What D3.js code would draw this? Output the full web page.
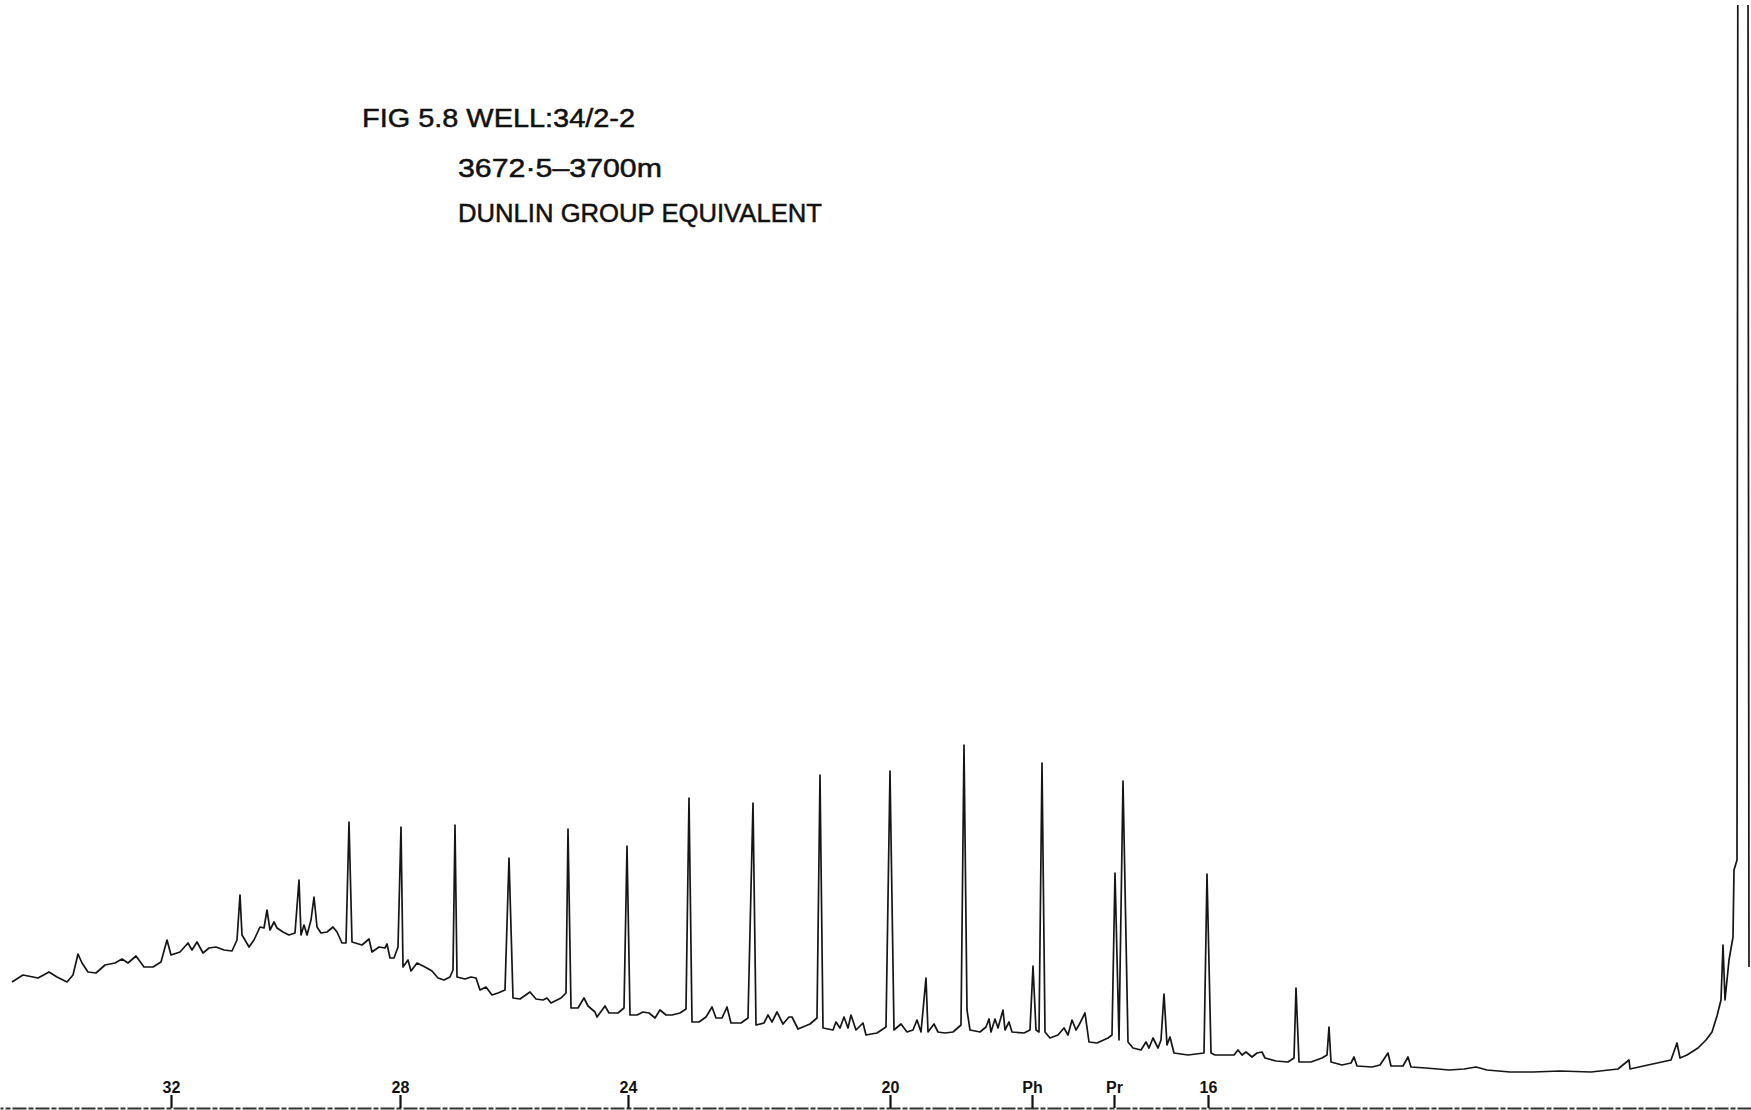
<!DOCTYPE html>
<html><head><meta charset="utf-8">
<script src="https://cdn.jsdelivr.net/npm/d3@7"></script>
<style>html,body{margin:0;padding:0;background:#fff;overflow:hidden}</style>
</head><body>
<script>
// ---- data (retention time in minutes, detector signal in arbitrary units) ----
const titleLines = ["FIG 5.8 WELL:34/2-2", "3672·5–3700m", "DUNLIN GROUP EQUIVALENT"];
const tickLabels = ["32", "28", "24", "20", "Ph", "Pr", "16"];
const tickTimes  = [79.0, 67.55, 56.15, 43.05, 35.95, 31.85, 27.15];

// chromatogram trace: [retention time, signal]
const trace = [
 [86.95,12.6],[86.40,13.3],[85.65,13.0],[85.10,13.6],[84.70,13.1],[84.20,12.6],[83.90,13.3],[83.65,15.4],
 [83.45,14.5],[83.15,13.6],[82.75,13.5],[82.30,14.3],[81.80,14.5],[81.45,14.9],[81.15,14.5],[80.75,15.2],
 [80.35,14.1],[79.90,14.1],[79.50,14.6],[79.20,16.8],[79.00,15.3],[78.55,15.6],[78.15,16.5],[77.95,15.8],
 [77.70,16.6],[77.40,15.5],[77.10,16.0],[76.75,16.1],[76.35,15.8],[75.95,15.7],[75.70,16.8],[75.55,21.3],
 [75.45,17.3],[75.30,16.8],[75.10,16.1],[74.85,16.8],[74.55,18.1],[74.35,18.0],[74.20,19.8],[74.05,17.8],
 [73.85,18.6],[73.70,18.0],[73.40,17.6],[73.10,17.3],[72.80,17.5],[72.60,22.8],[72.50,17.3],[72.35,18.3],
 [72.20,17.3],[72.00,18.8],[71.85,21.1],[71.70,18.1],[71.50,17.5],[71.20,17.6],[70.90,18.1],[70.70,17.6],
 [70.45,16.5],[70.25,16.5],[70.10,28.6],[69.95,16.6],[69.45,16.3],[69.10,16.9],[68.95,15.6],[68.60,16.1],
 [68.30,16.0],[68.20,16.4],[68.05,15.0],[67.85,15.0],[67.65,16.1],[67.50,28.1],[67.40,14.1],[67.15,14.8],
 [67.00,13.7],[66.70,14.5],[66.30,14.1],[65.95,13.7],[65.65,13.0],[65.35,12.8],[65.05,13.1],[64.90,13.8],
 [64.80,28.3],[64.70,13.1],[64.30,12.9],[64.00,13.1],[63.75,13.0],[63.55,11.8],[63.25,12.1],[62.95,11.3],
 [62.65,11.5],[62.30,11.8],[62.10,25.0],[61.90,11.0],[61.55,10.9],[61.05,11.6],[60.75,10.9],[60.40,10.8],
 [60.20,11.0],[60.00,10.5],[59.50,11.0],[59.25,11.5],[59.15,27.9],[59.00,10.0],[58.65,10.0],[58.35,11.0],
 [58.15,10.2],[57.80,9.6],[57.70,9.1],[57.30,10.2],[57.10,9.5],[56.65,9.5],[56.35,10.0],[56.20,26.2],
 [56.05,9.3],[55.70,9.3],[55.40,9.6],[55.10,9.5],[54.80,9.0],[54.55,9.8],[54.25,9.3],[53.95,9.3],
 [53.55,9.5],[53.25,9.9],[53.10,31.0],[52.95,8.6],[52.60,8.6],[52.25,9.1],[51.95,10.1],[51.75,9.0],
 [51.45,9.0],[51.20,10.1],[51.00,8.5],[50.50,8.5],[50.15,9.0],[49.90,30.5],[49.75,8.3],[49.35,8.5],
 [49.15,9.3],[48.95,8.6],[48.70,9.6],[48.40,8.4],[48.10,9.1],[47.95,9.1],[47.65,7.9],[47.05,8.4],
 [46.70,9.0],[46.55,33.3],[46.40,8.0],[45.90,7.8],[45.75,8.6],[45.55,8.0],[45.35,9.1],[45.15,8.0],
 [45.00,9.3],[44.75,7.8],[44.40,8.5],[44.25,7.3],[43.70,7.5],[43.25,8.1],[43.05,33.7],[42.85,7.8],
 [42.50,8.4],[42.20,7.6],[41.90,7.8],[41.70,8.8],[41.50,7.6],[41.25,13.0],[41.15,7.6],[40.85,8.4],
 [40.65,7.6],[40.30,7.5],[39.90,7.6],[39.50,8.3],[39.35,36.3],[39.20,9.8],[39.05,7.8],[38.55,7.6],
 [38.25,8.1],[38.10,8.9],[38.00,7.6],[37.80,8.9],[37.65,8.0],[37.40,9.8],[37.30,7.8],[37.10,8.6],
 [36.95,7.6],[36.35,7.5],[36.05,7.8],[35.90,14.2],[35.75,7.8],[35.60,7.6],[35.45,34.5],[35.30,7.6],
 [35.05,7.0],[34.65,7.3],[34.35,8.0],[34.15,7.3],[33.95,8.8],[33.75,7.8],[33.60,8.3],[33.30,9.5],
 [33.10,6.6],[32.70,6.5],[32.15,7.0],[31.95,7.3],[31.80,23.5],[31.60,6.8],[31.40,32.7],[31.15,6.6],
 [30.90,6.0],[30.50,5.8],[30.25,6.6],[30.10,6.0],[29.90,7.0],[29.65,6.0],[29.50,6.8],[29.35,11.4],
 [29.20,6.3],[29.05,7.1],[28.85,5.5],[28.15,5.3],[27.35,5.5],[27.20,23.4],[27.00,5.5],[26.80,5.3],
 [25.85,5.3],[25.65,5.8],[25.45,5.3],[25.25,5.6],[24.95,5.1],[24.70,5.5],[24.45,5.6],[24.30,5.0],
 [23.75,4.7],[23.15,4.6],[22.85,5.0],[22.75,12.0],[22.60,4.6],[22.00,4.6],[21.45,5.0],[21.20,5.3],
 [21.10,8.1],[21.00,4.6],[20.45,4.3],[20.00,4.5],[19.85,5.1],[19.70,4.2],[18.95,4.1],[18.55,4.3],
 [18.15,5.5],[18.00,4.2],[17.40,4.2],[17.15,5.1],[17.00,4.1],[16.25,4.0],[15.10,3.8],[14.35,3.9],
 [13.75,4.1],[13.20,3.8],[12.05,3.6],[10.90,3.6],[9.55,3.7],[8.00,3.6],[6.65,3.9],[6.10,4.8],
 [6.05,3.9],[5.15,4.3],[4.00,4.8],[3.70,6.5],[3.55,5.0],[3.20,5.3],[2.65,6.0],[2.25,6.8],
 [1.95,7.6],[1.70,9.2],[1.50,10.8],[1.40,16.3],[1.30,10.8],[1.10,14.8],[0.90,17.1],[0.85,23.8],
 [0.70,24.8],[0.66,110.5],[0.60,112.8],[0.15,112.8],[0.10,14.1]
];

// ---- drawing ----
const W = 1751, H = 1110;
const svg = d3.select("body").append("svg").attr("width", W).attr("height", H)
  .style("background", "#fff");

const x = d3.scaleLinear().domain([0, 87.55]).range([W, 0]);
const y = d3.scaleLinear().domain([0, 110]).range([1108, 8]);

svg.append("clipPath").attr("id", "clip")
  .append("rect").attr("x", 0).attr("y", 5).attr("width", W).attr("height", H - 5);

const line = d3.line().x(d => x(d[0])).y(d => y(d[1]));
svg.append("path").datum(trace)
  .attr("clip-path", "url(#clip)")
  .attr("d", line)
  .attr("fill", "none")
  .attr("stroke", "#151515")
  .attr("stroke-width", 1.7)
  .attr("stroke-linejoin", "round");

// axis
const axis = d3.axisTop(x)
  .tickValues(tickTimes)
  .tickFormat((d, i) => tickLabels[i])
  .tickSize(13).tickSizeOuter(0).tickPadding(2);
const ag = svg.append("g").attr("transform", "translate(0,1108)").call(axis);
ag.select(".domain").attr("stroke", "#333").attr("stroke-width", 2)
  .attr("stroke-dasharray", "14,2,5,2");
ag.selectAll(".tick line").attr("stroke", "#111").attr("stroke-width", 2.2);
ag.selectAll(".tick text")
  .attr("fill", "#111")
  .style("font-family", "'Liberation Sans', Arial, sans-serif")
  .style("font-weight", "bold")
  .style("font-size", "16px");

// title block
const titlePos = [[362, 127, 273], [458, 177, 204], [458, 222, 364]];
svg.selectAll("text.title").data(titleLines).enter().append("text")
  .attr("class", "title")
  .attr("x", (d, i) => titlePos[i][0])
  .attr("y", (d, i) => titlePos[i][1])
  .attr("textLength", (d, i) => titlePos[i][2])
  .attr("lengthAdjust", "spacingAndGlyphs")
  .style("font-family", "'Liberation Sans', Arial, sans-serif")
  .style("font-size", "26px")
  .attr("fill", "#111")
  .attr("stroke", "#111")
  .attr("stroke-width", 0.5)
  .text(d => d);
</script>
</body></html>
